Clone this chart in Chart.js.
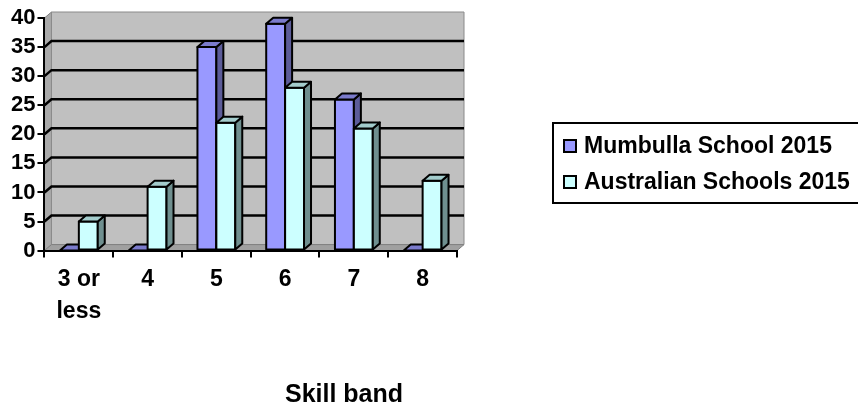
<!DOCTYPE html>
<html lang="en">
<head>
<meta charset="UTF-8">
<title>Skill band</title>
<script src="https://cdn.jsdelivr.net/npm/chart.js@4.4.1/dist/chart.umd.min.js"></script>
<style>
  body { margin: 0; background: #fff; }
  #wrap { width: 858px; height: 412px; }
</style>
</head>
<body>
<div id="wrap"><canvas id="skillChart"></canvas></div>
<script>
// data
const bands = [['3 or', 'less'], '4', '5', '6', '7', '8'];
const mumbulla = [0, 0, 35, 39, 26, 0];
const australia = [5, 11, 22, 28, 21, 12];
const seriesNames = ['Mumbulla School 2015', 'Australian Schools 2015'];
const axisTitle = 'Skill band';
const yMax = 40;
const yStep = 5;

const FONT = '"Liberation Sans", Arial, sans-serif';
// front / top / side colours of the fake 3d columns
const faces = [
  { front: '#9999ff', top: '#7b7bcc', side: '#5c5c99' },
  { front: '#ccffff', top: '#a3cccc', side: '#6f8f8f' }
];
const DX = 7, DY = 6; // depth of the 3d effect

function poly(ctx, pts, fill, stroke) {
  ctx.beginPath();
  ctx.moveTo(pts[0][0], pts[0][1]);
  for (let i = 1; i < pts.length; i++) ctx.lineTo(pts[i][0], pts[i][1]);
  ctx.closePath();
  if (fill) { ctx.fillStyle = fill; ctx.fill(); }
  if (stroke) { ctx.strokeStyle = stroke; ctx.stroke(); }
}

const fake3d = {
  id: 'fake3d',
  beforeDraw(chart) {
    const { ctx, chartArea: a, scales: { y } } = chart;
    ctx.save();
    ctx.lineWidth = 1;
    // left wall, back wall, floor
    poly(ctx, [[a.left, a.top], [a.left + DX, a.top - DY], [a.left + DX, a.bottom - DY], [a.left, a.bottom]], '#a9a9a9', '#808080');
    poly(ctx, [[a.left + DX, a.top - DY], [a.right + DX, a.top - DY], [a.right + DX, a.bottom - DY], [a.left + DX, a.bottom - DY]], '#c0c0c0', '#8a8a8a');
    poly(ctx, [[a.left, a.bottom], [a.left + DX, a.bottom - DY], [a.right + DX, a.bottom - DY], [a.right, a.bottom]], '#a0a0a0', '#808080');
    // gridlines on the walls
    ctx.strokeStyle = '#000';
    ctx.lineWidth = 2.5;
    y.ticks.forEach(t => {
      if (t.value <= 0 || t.value >= yMax) return;
      const py = y.getPixelForValue(t.value);
      ctx.beginPath();
      ctx.moveTo(a.left, py);
      ctx.lineTo(a.left + DX, py - DY);
      ctx.lineTo(a.right + DX, py - DY);
      ctx.stroke();
    });
    ctx.restore();
  },
  afterDatasetsDraw(chart) {
    const ctx = chart.ctx;
    const metas = [chart.getDatasetMeta(0), chart.getDatasetMeta(1)];
    ctx.save();
    ctx.lineWidth = 2;
    ctx.lineJoin = 'round';
    for (let i = 0; i < bands.length; i++) {
      metas.forEach((m, d) => {
        const { x, y, base, width } = m.data[i].getProps(['x', 'y', 'base', 'width'], true);
        const l = x - width / 2, r = x + width / 2;
        const f = faces[d];
        if (base - y > 0.5) {
          poly(ctx, [[l, y], [r, y], [r, base], [l, base]], f.front, '#000');
          poly(ctx, [[r, y], [r + DX, y - DY], [r + DX, base - DY], [r, base]], f.side, '#000');
        }
        poly(ctx, [[l, y], [r, y], [r + DX, y - DY], [l + DX, y - DY]], f.top, '#000');
      });
    }
    ctx.restore();
  },
  afterDraw(chart) {
    const ctx = chart.ctx;
    ctx.save();
    // legend box
    ctx.lineWidth = 2;
    ctx.strokeStyle = '#000';
    ctx.strokeRect(553, 123, 320, 80);
    ctx.font = 'bold 23px ' + FONT;
    ctx.textBaseline = 'middle';
    ctx.fillStyle = '#000';
    seriesNames.forEach((name, i) => {
      const cy = 146 + i * 36;
      ctx.fillStyle = faces[i].front;
      ctx.fillRect(564, cy - 6, 12, 12);
      ctx.strokeRect(564, cy - 6, 12, 12);
      ctx.fillStyle = '#000';
      ctx.fillText(name, 584, cy + 1);
    });
    // axis title
    ctx.font = 'bold 25px ' + FONT;
    ctx.textAlign = 'center';
    ctx.fillText(axisTitle, 344, 395);
    ctx.restore();
  }
};

new Chart(document.getElementById('skillChart'), {
  type: 'bar',
  data: {
    labels: bands,
    datasets: [
      { label: seriesNames[0], data: mumbulla, backgroundColor: faces[0].front, borderWidth: 0,
        categoryPercentage: 0.55, barPercentage: 1 },
      { label: seriesNames[1], data: australia, backgroundColor: faces[1].front, borderWidth: 0,
        categoryPercentage: 0.55, barPercentage: 1 }
    ]
  },
  options: {
    responsive: true,
    maintainAspectRatio: false,
    animation: false,
    layout: { padding: { left: 9, top: 18, right: 401, bottom: 78 } },
    plugins: {
      legend: { display: false },
      tooltip: { enabled: false }
    },
    scales: {
      x: {
        grid: { offset: true, drawOnChartArea: false, tickLength: 7, color: '#000', lineWidth: 2 },
        border: { color: '#000', width: 2 },
        ticks: { color: '#000', padding: 6, maxRotation: 0, autoSkip: false,
                 font: { family: FONT, size: 23, weight: 'bold', lineHeight: 1.4 } }
      },
      y: {
        min: 0,
        max: yMax,
        grid: { drawOnChartArea: false, tickLength: 7, color: '#000', lineWidth: 2 },
        border: { color: '#000', width: 2 },
        ticks: { stepSize: yStep, autoSkip: false, color: '#000', padding: 2,
                 font: { family: FONT, size: 22, weight: 'bold', lineHeight: 1 } }
      }
    }
  },
  plugins: [fake3d]
});
</script>
</body>
</html>
